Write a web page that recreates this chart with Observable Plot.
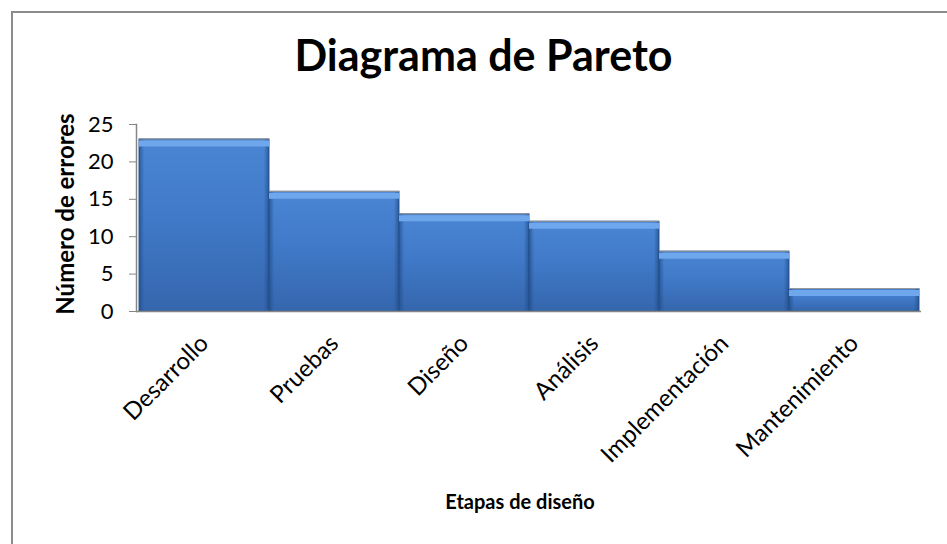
<!DOCTYPE html>
<html>
<head>
<meta charset="utf-8">
<script src="https://cdn.jsdelivr.net/npm/d3@7"></script>
<script src="https://cdn.jsdelivr.net/npm/@observablehq/plot@0.6"></script>
<style>
  html, body { margin: 0; padding: 0; background: #fff; }
  #wrap { position: relative; width: 947px; height: 544px; overflow: hidden; background: #fff; }
  #border { position: absolute; left: 11px; top: 11px; width: 2000px; height: 2000px; border: 2px solid #8c8c8c; box-sizing: border-box; }
  #title { position: relative; height: 100px; box-sizing: border-box; padding-top: 30px; padding-left: 20px; text-align: center;
           font-family: Lato, "Open Sans", sans-serif; font-weight: bold; font-size: 43px; line-height: 50px; color: #000; }
  #chart { position: relative; }
</style>
</head>
<body>
<div id="wrap">
  <div id="border"></div>
  <div id="title">Diagrama de Pareto</div>
  <div id="chart"></div>
</div>
<script>
const categories = ["Desarrollo", "Pruebas", "Diseño", "Análisis", "Implementación", "Mantenimiento"];
const errores = [23, 16, 13, 12, 8, 3];
const yTicks = [0, 5, 10, 15, 20, 25];
const yTitle = "Número de errores";
const xTitle = "Etapas de diseño";

const data = categories.map((c, i) => ({etapa: c, errores: errores[i]}));

const chart = Plot.plot({
  width: 947,
  height: 444,
  marginLeft: 136,
  marginRight: 26,
  marginTop: 24,
  marginBottom: 233,
  style: {fontFamily: "Lato, 'Open Sans', sans-serif", fontSize: "21px", color: "#000", background: "transparent", overflow: "visible"},
  x: {domain: categories, padding: 0, label: null},
  y: {domain: [0, 25], label: null},
  marks: [
    Plot.barY(data, {x: "etapa", y: "errores", fill: "url(#barGrad)", stroke: "#2d5b97", strokeWidth: 1}),
    Plot.barY(data, {x: "etapa", y: "errores", fill: "url(#edgeGrad)"}),
    Plot.tickY(data, {x: "etapa", y: "errores", stroke: "#6fa7ec", strokeWidth: 6, dy: 4}),
    Plot.tickY(data, {x: "etapa", y: "errores", stroke: "#9a9a9a", strokeWidth: 1, dy: -0.5}),
    Plot.ruleY([0], {stroke: "#868686", strokeWidth: 1.5}),
    Plot.frame({anchor: "left", stroke: "#868686", strokeWidth: 1.5}),
    Plot.axisY({ticks: yTicks, tickSize: 7, tickPadding: 16, stroke: "#868686", fill: "#000", fontSize: 22, label: null}),
    Plot.axisX({tickRotate: -45, tickSize: 0, tickPadding: 28, dx: 0, fontSize: 24, label: null}),
    Plot.text([yTitle], {frameAnchor: "left", textAnchor: "middle", dx: -70, dy: -4, rotate: -90, fontWeight: "bold", fontSize: 24}),
    Plot.text([xTitle], {frameAnchor: "bottom", dx: -9, dy: 197, fontWeight: "bold", fontSize: 20})
  ]
});

const ns = "http://www.w3.org/2000/svg";
const defs = document.createElementNS(ns, "defs");
function makeGrad(id, horizontal, stops) {
  const g = document.createElementNS(ns, "linearGradient");
  g.setAttribute("id", id);
  g.setAttribute("x1", "0"); g.setAttribute("y1", "0");
  g.setAttribute("x2", horizontal ? "1" : "0"); g.setAttribute("y2", horizontal ? "0" : "1");
  stops.forEach(([o, c, a]) => {
    const s = document.createElementNS(ns, "stop");
    s.setAttribute("offset", o); s.setAttribute("stop-color", c);
    s.setAttribute("stop-opacity", a == null ? 1 : a);
    g.appendChild(s);
  });
  defs.appendChild(g);
}
makeGrad("barGrad", false, [["0%", "#4a86d4"], ["50%", "#3f78c6"], ["100%", "#3566ad"]]);
makeGrad("edgeGrad", true, [["0%", "#1f4a85", 0.7], ["4%", "#1f4a85", 0], ["96%", "#1f4a85", 0], ["100%", "#1f4a85", 0.7]]);
chart.insertBefore(defs, chart.firstChild);

document.getElementById("chart").appendChild(chart);
</script>
</body>
</html>
